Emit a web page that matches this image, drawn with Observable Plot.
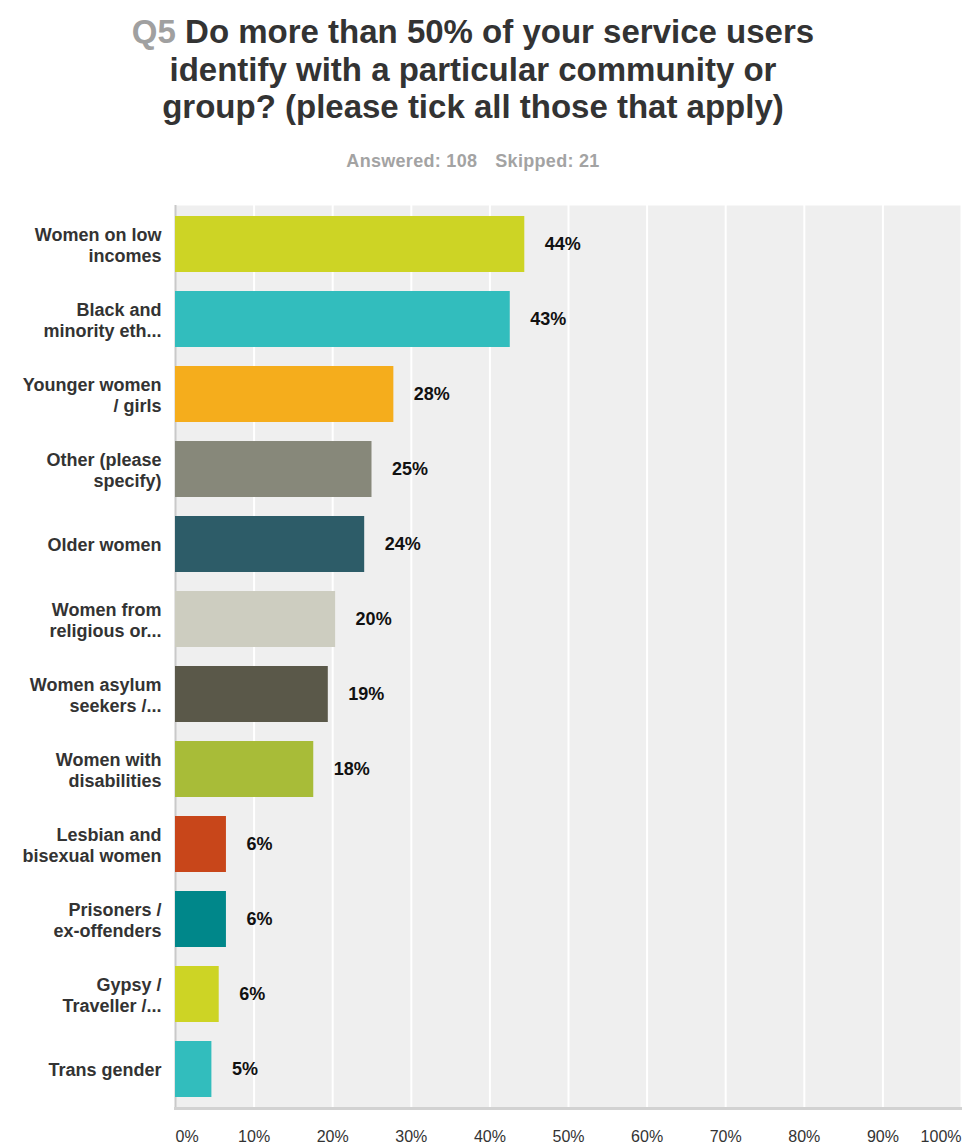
<!DOCTYPE html>
<html>
<head>
<meta charset="utf-8">
<script src="https://cdn.jsdelivr.net/npm/d3@7"></script>
<script src="https://cdn.jsdelivr.net/npm/@observablehq/plot@0.6"></script>
<style>
  body { margin: 0; background: #fff; font-family: "Liberation Sans", Arial, sans-serif; }
  #wrap { position: relative; width: 962px; height: 1147px; overflow: hidden; }
  #title { position: absolute; top: 13px; left: 0; width: 946px; text-align: center;
           font-size: 33px; font-weight: bold; color: #333; line-height: 37.5px; }
  #title .q { color: #a0a0a0; }
  #sub { position: absolute; top: 151px; left: 0; width: 946px; text-align: center;
         font-size: 18px; font-weight: bold; color: #a3a3a3; letter-spacing: 0.3px; }
  #sub span { margin: 0 9px; }
  #chart { position: absolute; top: 190px; left: 0; }
</style>
</head>
<body>
<div id="wrap">
  <div id="title"><span class="q">Q5</span> Do more than 50% of your service users<br>identify with a particular community or<br>group? (please tick all those that apply)</div>
  <div id="sub"><span>Answered: 108</span><span>Skipped: 21</span></div>
  <div id="chart"></div>
</div>
<script>
const categories = [
  "Women on low incomes", "Black and minority eth...", "Younger women / girls",
  "Other (please specify)", "Older women", "Women from religious or...",
  "Women asylum seekers /...", "Women with disabilities", "Lesbian and bisexual women",
  "Prisoners / ex-offenders", "Gypsy / Traveller /...", "Trans gender"
];
const labels = [
  "Women on low\nincomes", "Black and\nminority eth...", "Younger women\n/ girls",
  "Other (please\nspecify)", "Older women", "Women from\nreligious or...",
  "Women asylum\nseekers /...", "Women with\ndisabilities", "Lesbian and\nbisexual women",
  "Prisoners /\nex-offenders", "Gypsy /\nTraveller /...", "Trans gender"
];
const values = [44.44, 42.59, 27.78, 25.00, 24.07, 20.37, 19.44, 17.59, 6.48, 6.48, 5.56, 4.63];
const colors = ["#cdd425", "#32bdbd", "#f5ad1c", "#87887a", "#2d5c68", "#cdcdc0",
                "#5a5849", "#a8bc38", "#c8461a", "#00878a", "#cdd425", "#32bdbd"];
const xTicks = [0, 10, 20, 30, 40, 50, 60, 70, 80, 90, 100];

const data = categories.map((c, i) => ({category: c, label: labels[i], value: values[i], color: colors[i]}));

const chart = Plot.plot({
  width: 962,
  height: 957,
  marginTop: 15,
  marginBottom: 39,
  marginLeft: 175,
  marginRight: 1,
  style: {fontFamily: "'Liberation Sans', Arial, sans-serif", background: "transparent", overflow: "visible"},
  x: {domain: [0, 100], axis: null},
  y: {domain: categories, paddingInner: 0.256, paddingOuter: 0.13, axis: null},
  color: {type: "identity"},
  marks: [
    Plot.frame({fill: "#efefef"}),
    Plot.gridX(xTicks.slice(1), {stroke: "#ffffff", strokeOpacity: 1, strokeWidth: 2}),
    Plot.ruleX([0], {stroke: "#c9c9c9", strokeWidth: 2}),
    Plot.frame({anchor: "bottom", stroke: "#d2d2d2", strokeWidth: 3}),
    Plot.barX(data, {x: "value", y: "category", fill: "color"}),
    Plot.text(data, {x: 0, y: "category", text: "label", textAnchor: "end", dx: -14,
      fontWeight: "bold", fontSize: 18, fill: "#333", lineHeight: 1.17, letterSpacing: 0.9}),
    Plot.text(data, {x: "value", y: "category", text: d => Math.round(d.value) + "%",
      textAnchor: "start", dx: 20, fontWeight: "bold", fontSize: 18, fill: "#111"}),
    Plot.text(xTicks.filter(d => d > 0 && d < 100), {x: d => d, frameAnchor: "bottom", dy: 33,
      text: d => d + "%", fontSize: 16, fill: "#333"}),
    Plot.text([0], {x: d => d, frameAnchor: "bottom", dy: 33, text: d => d + "%",
      textAnchor: "start", fontSize: 16, fill: "#333"}),
    Plot.text([100], {x: d => d, frameAnchor: "bottom", dy: 33, text: d => d + "%",
      textAnchor: "end", fontSize: 16, fill: "#333"})
  ]
});
document.getElementById("chart").appendChild(chart);
</script>
</body>
</html>
